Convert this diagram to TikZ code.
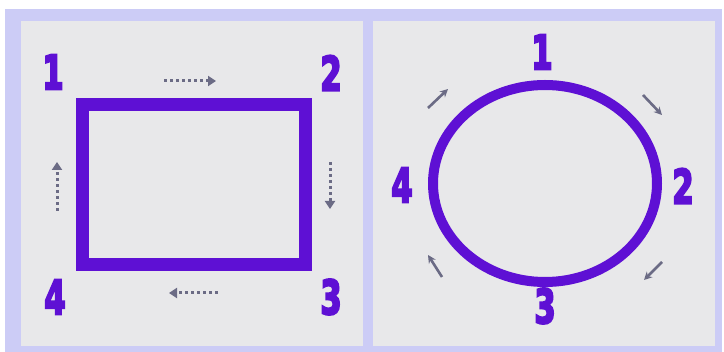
\documentclass[tikz,border=0pt]{standalone}
\usepackage{fontspec}
\newfontfamily\digitfont{DejaVu Sans Condensed}[FakeBold=5]
\usetikzlibrary{arrows.meta}
\definecolor{lav}{HTML}{CCCCF6}
\definecolor{panel}{HTML}{E8E8EA}
\definecolor{vio}{HTML}{5E10D4}
\definecolor{arr}{HTML}{6B6B85}
\tikzset{
  num/.style={text=vio, inner sep=0pt, font=\digitfont\bfseries\fontsize{47}{47}\selectfont},
  dotarrow/.style={arr, line width=3pt, dash pattern=on 3pt off 3pt, -{Triangle[length=8pt,width=10pt]}},
  solarrow/.style={arr, line width=2.6pt, -{Stealth[length=8pt,width=8pt]}},
  purpline/.style={vio, line join=miter}
}
\newcommand{\dg}[1]{\scalebox{0.72}[1]{#1}}
\begin{document}
\begin{tikzpicture}[x=1pt,y=-1pt]
\useasboundingbox (0,0) rectangle (724,352);
\fill[white] (0,0) rectangle (724,352);
\fill[lav] (5,9) rectangle (722,352);
\fill[panel] (21,21) rectangle (363,346);
\fill[panel] (373,21) rectangle (715,346);
% left panel
\draw[purpline, line width=13pt] (82,105) rectangle (305,265);
\node[num] (l1) at (53,72) {\dg{1}};
\node[num] (l2) at (331,73) {\dg{2}};
\node[num] (l3) at (331,297) {\dg{3}};
\node[num] (l4) at (55,297) {\dg{4}};
\coordinate (ta) at (164,81); \coordinate (tb) at (216,81);
\coordinate (ra) at (330,162); \coordinate (rb) at (330,209);
\coordinate (ba) at (218,293); \coordinate (bb) at (169,293);
\coordinate (la) at (57,211); \coordinate (lb) at (57,162);
\draw[dotarrow] (ta) -- (tb);
\draw[dotarrow] (ra) -- (rb);
\draw[dotarrow] (ba) -- (bb);
\draw[dotarrow] (la) -- (lb);
% right panel
\draw[purpline, line width=10pt] (545,183.5) ellipse [x radius=112, y radius=98.5];
\node[num] (r1) at (542,52) {\dg{1}};
\node[num] (r2) at (683,186) {\dg{2}};
\node[num] (r3) at (545,306) {\dg{3}};
\node[num] (r4) at (402,185) {\dg{4}};
\coordinate (a1) at (428,108); \coordinate (b1) at (448,89);
\coordinate (a2) at (643,95); \coordinate (b2) at (662,115);
\coordinate (a3) at (662,262); \coordinate (b3) at (644,280);
\coordinate (a4) at (442,277); \coordinate (b4) at (428,255);
\draw[solarrow] (a1) -- (b1);
\draw[solarrow] (a2) -- (b2);
\draw[solarrow] (a3) -- (b3);
\draw[solarrow] (a4) -- (b4);
\end{tikzpicture}
\end{document}
